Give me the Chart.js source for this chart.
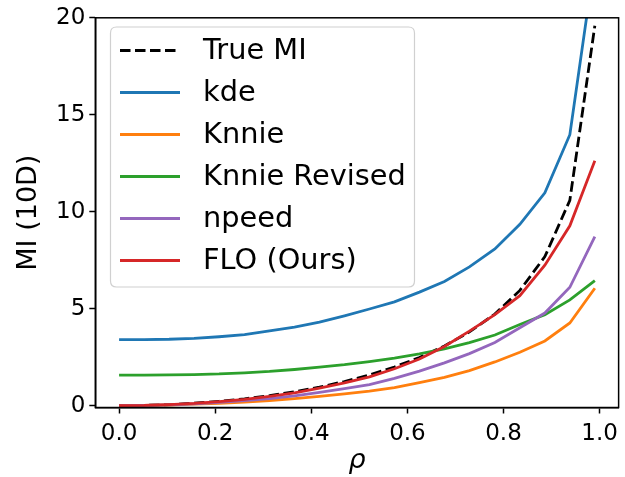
<!DOCTYPE html>
<html>
<head>
<meta charset="utf-8">
<script src="https://cdn.jsdelivr.net/npm/chart.js@4.4.1/dist/chart.umd.min.js"></script>
<style>
  html, body { margin: 0; padding: 0; background: #fff; }
  canvas { display: block; }
</style>
</head>
<body>
<canvas id="c" width="625" height="477"></canvas>
<script>
// ---- data ----
const rho = [0.000, 0.052, 0.104, 0.156, 0.208, 0.261, 0.313, 0.365, 0.417, 0.469,
             0.521, 0.573, 0.625, 0.677, 0.729, 0.782, 0.834, 0.886, 0.938, 0.990];
const trueMI = [0.00, 0.01, 0.05, 0.12, 0.22, 0.35, 0.51, 0.71, 0.95, 1.24,
                1.58, 1.99, 2.48, 3.07, 3.80, 4.72, 5.94, 7.68, 10.59, 19.59];
const kde = [3.40, 3.40, 3.42, 3.47, 3.55, 3.66, 3.85, 4.05, 4.30, 4.63,
             4.98, 5.35, 5.85, 6.40, 7.15, 8.08, 9.35, 10.97, 13.97, 23.0];
const knnie = [0.00, 0.01, 0.03, 0.07, 0.12, 0.18, 0.26, 0.36, 0.47, 0.60,
               0.75, 0.93, 1.18, 1.45, 1.80, 2.25, 2.75, 3.33, 4.26, 6.05];
const knnieRevised = [1.57, 1.57, 1.58, 1.60, 1.63, 1.69, 1.76, 1.86, 1.98, 2.11,
                      2.27, 2.45, 2.66, 2.92, 3.25, 3.64, 4.18, 4.69, 5.45, 6.44];
const npeed = [0.00, 0.01, 0.04, 0.09, 0.16, 0.25, 0.36, 0.50, 0.68, 0.87,
               1.08, 1.40, 1.78, 2.20, 2.68, 3.25, 4.01, 4.77, 6.10, 8.71];
const flo = [0.00, 0.01, 0.05, 0.11, 0.20, 0.32, 0.47, 0.65, 0.90, 1.17,
             1.48, 1.90, 2.40, 3.05, 3.84, 4.69, 5.67, 7.24, 9.27, 12.63];
const xTicks = [0.0, 0.2, 0.4, 0.6, 0.8, 1.0];
const yTicks = [0, 5, 10, 15, 20];
const seriesNames = ['True MI', 'kde', 'Knnie', 'Knnie Revised', 'npeed', 'FLO (Ours)'];
const seriesColors = ['#000000', '#1f77b4', '#ff7f0e', '#2ca02c', '#9467bd', '#d62728'];
const seriesValues = [trueMI, kde, knnie, knnieRevised, npeed, flo];

const FONT = "'DejaVu Sans', sans-serif";
const LW = 2.8;

const datasets = seriesValues.map((vals, k) => ({
  label: seriesNames[k],
  data: vals.map((v, i) => ({ x: rho[i], y: v })),
  borderColor: seriesColors[k],
  backgroundColor: seriesColors[k],
  borderWidth: LW,
  borderDash: k === 0 ? [10.5, 4.5] : [],
  pointRadius: 0,
  tension: 0,
  fill: false,
  order: seriesNames.length - k
}));

const frameAndLegend = {
  id: 'frameAndLegend',
  afterDatasetsDraw(chart) {
    const ctx = chart.ctx;
    const a = chart.chartArea;
    ctx.save();
    // spines
    ctx.strokeStyle = '#000';
    ctx.lineWidth = 1.5;
    ctx.strokeRect(a.left, a.top, a.right - a.left, a.bottom - a.top);
    // legend box
    const bx = 110.5, by = 27, bw = 304, bh = 260, r = 6;
    ctx.beginPath();
    ctx.moveTo(bx + r, by);
    ctx.lineTo(bx + bw - r, by);
    ctx.quadraticCurveTo(bx + bw, by, bx + bw, by + r);
    ctx.lineTo(bx + bw, by + bh - r);
    ctx.quadraticCurveTo(bx + bw, by + bh, bx + bw - r, by + bh);
    ctx.lineTo(bx + r, by + bh);
    ctx.quadraticCurveTo(bx, by + bh, bx, by + bh - r);
    ctx.lineTo(bx, by + r);
    ctx.quadraticCurveTo(bx, by, bx + r, by);
    ctx.closePath();
    ctx.fillStyle = 'rgba(255,255,255,0.8)';
    ctx.fill();
    ctx.strokeStyle = '#d0d0d0';
    ctx.lineWidth = 1.2;
    ctx.stroke();
    // entries
    ctx.font = '28.8px ' + FONT;
    ctx.textBaseline = 'middle';
    ctx.textAlign = 'left';
    chart.data.datasets.forEach((ds, k) => {
      const y = 50.5 + k * 42;
      ctx.beginPath();
      ctx.setLineDash(ds.borderDash || []);
      ctx.strokeStyle = ds.borderColor;
      ctx.lineWidth = LW;
      ctx.moveTo(120, y);
      ctx.lineTo(180, y);
      ctx.stroke();
      ctx.setLineDash([]);
      ctx.fillStyle = '#000';
      ctx.fillText(ds.label, 203, y + 1);
    });
    ctx.restore();
  }
};

new Chart(document.getElementById('c'), {
  type: 'line',
  data: { datasets },
  plugins: [frameAndLegend],
  options: {
    responsive: false,
    animation: false,
    devicePixelRatio: 1,
    layout: { padding: { left: 0, right: 2, top: 12.5, bottom: 0 } },
    plugins: { legend: { display: false }, tooltip: { enabled: false } },
    scales: {
      x: {
        type: 'linear',
        min: -0.0495,
        max: 1.0395,
        afterBuildTicks: s => { s.ticks = xTicks.map(v => ({ value: v })); },
        afterFit: s => { s.height = 69.5; },
        ticks: {
          color: '#000',
          font: { family: FONT, size: 23 },
          padding: 7,
          maxRotation: 0,
          callback: v => Number(v).toFixed(1)
        },
        grid: { drawOnChartArea: false, drawTicks: true, tickLength: 6, tickColor: '#000', tickWidth: 1.5 },
        border: { display: true, color: '#000', width: 1.5 },
        title: {
          display: true,
          text: 'ρ',
          color: '#000',
          font: { family: FONT, size: 27, style: 'italic' },
          padding: { top: 0, bottom: 0 }
        }
      },
      y: {
        type: 'linear',
        min: -0.1,
        max: 20,
        afterBuildTicks: s => { s.ticks = yTicks.map(v => ({ value: v })); },
        afterFit: s => { s.width = 95.3; },
        ticks: {
          color: '#000',
          font: { family: FONT, size: 23 },
          padding: 4,
          callback: v => String(v)
        },
        grid: { drawOnChartArea: false, drawTicks: true, tickLength: 6, tickColor: '#000', tickWidth: 1.5 },
        border: { display: true, color: '#000', width: 1.5 },
        title: {
          display: true,
          text: 'MI (10D)',
          color: '#000',
          font: { family: FONT, size: 27 },
          padding: { top: 13, bottom: 0 }
        }
      }
    }
  }
});
</script>
</body>
</html>
